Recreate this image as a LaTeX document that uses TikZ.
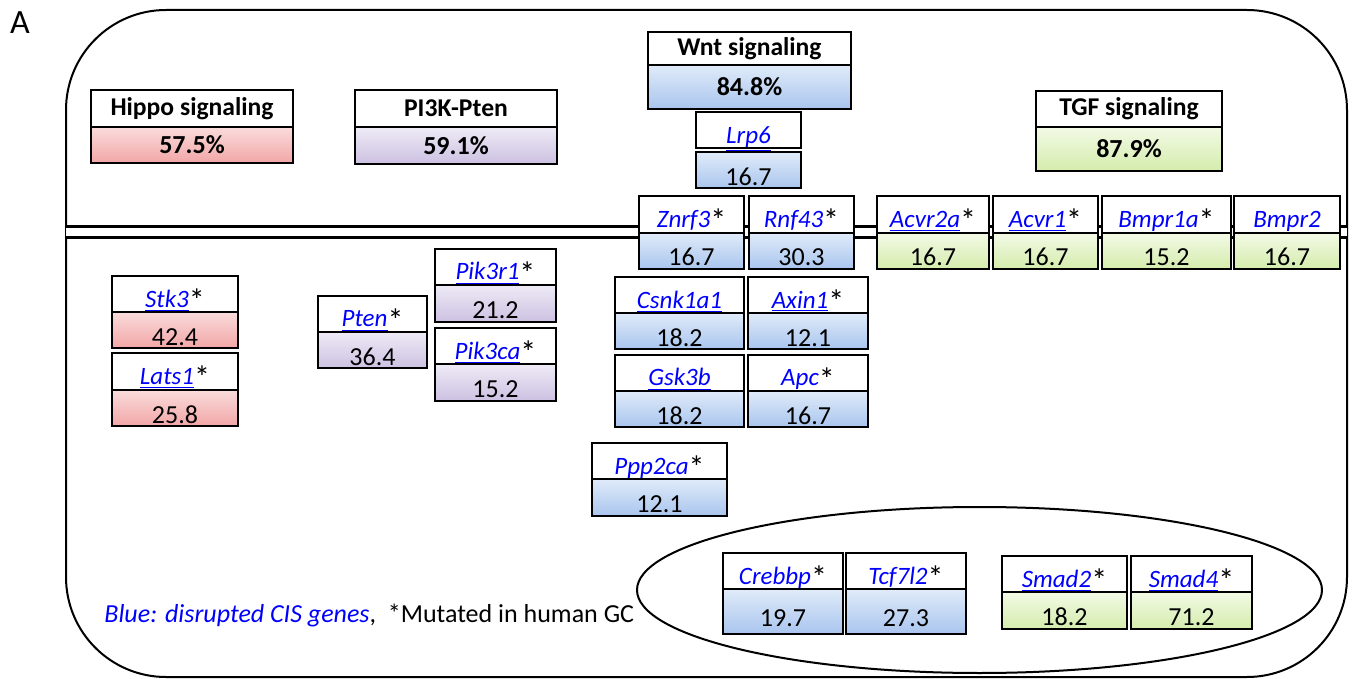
\documentclass[tikz,border=0pt]{standalone}
\usepackage{fontspec}
\setmainfont{Carlito}
\usepackage{tikz}
\usetikzlibrary{positioning,shapes.geometric}

\definecolor{wnthi}{HTML}{E0EBF9}
\definecolor{wntlo}{HTML}{A9C5EE}
\definecolor{hippohi}{HTML}{FADCDC}
\definecolor{hippolo}{HTML}{F2A6A6}
\definecolor{pikhi}{HTML}{EFEBF6}
\definecolor{piklo}{HTML}{CCC1E2}
\definecolor{tgfhi}{HTML}{F3FAE6}
\definecolor{tgflo}{HTML}{D4ECAC}

\newcommand{\gn}[1]{\textcolor{blue}{\underline{\textit{#1}}}}
\newcommand{\mut}{\raisebox{-2pt}{\fontsize{16pt}{16pt}\selectfont*}}

\begin{document}
\begin{tikzpicture}[x=0.5pt, y=-0.5pt, font=\fontsize{12.5pt}{15pt}\selectfont,
    box/.style = {draw, line width=1pt, inner sep=0pt, outer sep=0pt},
    gene/.style = {box, fill=white, minimum height=18pt, text height=15.5pt, text depth=2.5pt},
    val/.style = {box, minimum height=18pt, text height=16.5pt, text depth=1.5pt, font=\fontsize{13pt}{15pt}\selectfont},
    pw/.style = {box, fill=white, font=\fontsize{12.8pt}{15pt}\selectfont\bfseries},
    pct/.style = {box, font=\fontsize{13pt}{15pt}\selectfont\bfseries},
    wntfill/.style = {top color=wnthi, bottom color=wntlo},
    hippofill/.style = {top color=hippohi, bottom color=hippolo},
    pikfill/.style = {top color=pikhi, bottom color=piklo},
    tgffill/.style = {top color=tgfhi, bottom color=tgflo}]
    \useasboundingbox (0,0) rectangle (1355,679);

    \node[draw, line width=1pt, rounded corners=50pt, minimum width=640.5pt, minimum height=333.5pt] (cell) at (706.5,343.5) {};
    \node[draw, ellipse, line width=1pt, minimum width=342.5pt, minimum height=83pt] (nucleus) at (979.5,590) {};
    \coordinate (memL) at (66,232.5);
    \coordinate (memR) at (1347,232.5);
    \draw[line width=1.5pt, double, double distance=4pt] (memL) -- (memR);

    \node[font=\fontsize{17pt}{17pt}\selectfont] (panel) at (20,23) {A};

    % pathways
    \node[pw, minimum width=101pt, minimum height=18.5pt] (hippo) at (192,108.5) {Hippo signaling};
    \node[pct, hippofill, minimum width=101pt, minimum height=18pt, below=0pt of hippo] (hippov) {57.5\%};
    \node[pw, minimum width=101pt, minimum height=18.5pt] (pik) at (456,108.5) {PI3K-Pten};
    \node[pct, pikfill, minimum width=101pt, minimum height=18.5pt, below=0pt of pik] (pikv) {59.1\%};
    \node[pw, minimum width=101.5pt, minimum height=16.5pt] (wnt) at (749.5,48.5) {Wnt signaling};
    \node[pct, wntfill, minimum width=101.5pt, minimum height=22pt, below=0pt of wnt] (wntv) {84.8\%};
    \node[pw, minimum width=93pt, minimum height=18pt] (tgf) at (1129,109) {TGF signaling};
    \node[pct, tgffill, minimum width=93pt, minimum height=22pt, below=0pt of tgf] (tgfv) {87.9\%};

    % Wnt
    \node[gene, minimum width=52.5pt, minimum height=17.5pt] (lrp6) at (748.5,130.5) {\gn{Lrp6}};
    \node[val, wntfill, minimum width=52.5pt, minimum height=17.5pt, below=2pt of lrp6] (lrp6v) {16.7};
    \node[gene, minimum width=52.5pt, minimum height=18.5pt] (znrf3) at (691.5,214.5) {\gn{Znrf3}\mut};
    \node[val, wntfill, minimum width=52.5pt, minimum height=17.5pt, below=0pt of znrf3] (znrf3v) {16.7};
    \node[gene, minimum width=52.5pt, minimum height=18.5pt] (rnf43) at (801.5,214.5) {\gn{Rnf43}\mut};
    \node[val, wntfill, minimum width=52.5pt, minimum height=17.5pt, below=0pt of rnf43] (rnf43v) {30.3};
    \node[gene, minimum width=64.5pt] (csnk) at (679.5,295) {\gn{Csnk1a1}};
    \node[val, wntfill, minimum width=64.5pt, below=0pt of csnk] (csnkv) {18.2};
    \node[gene, minimum width=60pt] (axin1) at (808,295) {\gn{Axin1}\mut};
    \node[val, wntfill, minimum width=60pt, below=0pt of axin1] (axin1v) {12.1};
    \node[gene, minimum width=64.5pt] (gsk3b) at (679.5,373) {\gn{Gsk3b}};
    \node[val, wntfill, minimum width=64.5pt, below=0pt of gsk3b] (gsk3bv) {18.2};
    \node[gene, minimum width=60pt] (apc) at (808,373) {\gn{Apc}\mut};
    \node[val, wntfill, minimum width=60pt, below=0pt of apc] (apcv) {16.7};
    \node[gene, minimum width=67.5pt] (ppp2ca) at (659.5,461) {\gn{Ppp2ca}\mut};
    \node[val, wntfill, minimum width=67.5pt, minimum height=18.5pt, below=0pt of ppp2ca] (ppp2cav) {12.1};
    \node[gene, minimum width=60pt] (crebbp) at (783,571) {\gn{Crebbp}\mut};
    \node[val, wntfill, minimum width=60pt, minimum height=22.5pt, below=0pt of crebbp] (crebbpv) {19.7};
    \node[gene, minimum width=60pt] (tcf7l2) at (906,571) {\gn{Tcf7l2}\mut};
    \node[val, wntfill, minimum width=60pt, minimum height=22.5pt, below=0pt of tcf7l2] (tcf7l2v) {27.3};

    % TGF
    \node[gene, minimum width=56pt, minimum height=18.5pt] (acvr2a) at (933,214.5) {\gn{Acvr2a}\mut};
    \node[val, tgffill, minimum width=56pt, minimum height=17.5pt, below=0pt of acvr2a] (acvr2av) {16.7};
    \node[gene, minimum width=52.5pt, minimum height=18.5pt] (acvr1) at (1045.5,214.5) {\gn{Acvr1}\mut};
    \node[val, tgffill, minimum width=52.5pt, minimum height=17.5pt, below=0pt of acvr1] (acvr1v) {16.7};
    \node[gene, minimum width=64.5pt, minimum height=18.5pt] (bmpr1a) at (1166.5,214.5) {\gn{Bmpr1a}\mut};
    \node[val, tgffill, minimum width=64.5pt, minimum height=17.5pt, below=0pt of bmpr1a] (bmpr1av) {15.2};
    \node[gene, minimum width=53pt, minimum height=18.5pt] (bmpr2) at (1287,214.5) {\gn{Bmpr2}};
    \node[val, tgffill, minimum width=53pt, minimum height=17.5pt, below=0pt of bmpr2] (bmpr2v) {16.7};
    \node[gene, minimum width=62.5pt] (smad2) at (1064.5,574) {\gn{Smad2}\mut};
    \node[val, tgffill, minimum width=62.5pt, minimum height=18.5pt, below=0pt of smad2] (smad2v) {18.2};
    \node[gene, minimum width=60.5pt] (smad4) at (1191.5,574) {\gn{Smad4}\mut};
    \node[val, tgffill, minimum width=60.5pt, minimum height=18.5pt, below=0pt of smad4] (smad4v) {71.2};

    % Hippo
    \node[gene, minimum width=63pt] (stk3) at (175,294) {\gn{Stk3}\mut};
    \node[val, hippofill, minimum width=63pt, below=0pt of stk3] (stk3v) {42.4};
    \node[gene, minimum width=63pt, minimum height=18.5pt] (lats1) at (175,371.5) {\gn{Lats1}\mut};
    \node[val, hippofill, minimum width=63pt, below=0pt of lats1] (lats1v) {25.8};

    % PI3K
    \node[gene, minimum width=54.5pt] (pten) at (372.5,314) {\gn{Pten}\mut};
    \node[val, pikfill, minimum width=54.5pt, below=0pt of pten] (ptenv) {36.4};
    \node[gene, minimum width=60.5pt] (pik3r1) at (495.5,267) {\gn{Pik3r1}\mut};
    \node[val, pikfill, minimum width=60.5pt, minimum height=18.5pt, below=0pt of pik3r1] (pik3r1v) {21.2};
    \node[gene, minimum width=60.5pt] (pik3ca) at (495.5,346) {\gn{Pik3ca}\mut};
    \node[val, pikfill, minimum width=60.5pt, minimum height=18.5pt, below=0pt of pik3ca] (pik3cav) {15.2};

    \node[anchor=base west, inner sep=0pt, font=\fontsize{13pt}{15pt}\selectfont] (legend) at (104,622) {\textcolor{blue}{\textit{Blue: disrupted CIS genes}},\ \ *Mutated in human GC};
\end{tikzpicture}
\end{document}
